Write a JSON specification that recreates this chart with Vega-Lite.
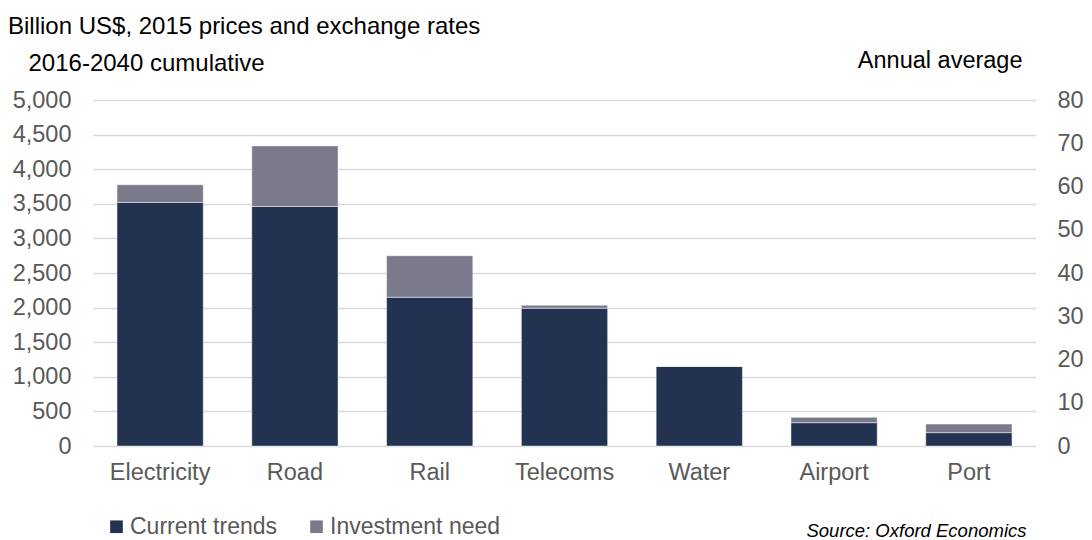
{
  "$schema": "https://vega.github.io/schema/vega-lite/v6.json",
  "width": 943,
  "height": 346,
  "autosize": {"type": "none"},
  "padding": {"left": 93, "top": 100, "right": 56, "bottom": 94},
  "background": "white",
  "config": {
    "font": "Liberation Sans",
    "view": {"stroke": null}
  },
  "title": {
    "text": "Billion US$, 2015 prices and exchange rates",
    "anchor": "start",
    "frame": "group",
    "dx": -85,
    "fontSize": 24,
    "fontWeight": "normal",
    "color": "#000000",
    "font": "Liberation Sans",
    "offset": 9
  },
  "data": {
    "values": [
      {"sector": "Electricity", "series": "Current trends", "value": 3520, "order": 1},
      {"sector": "Electricity", "series": "Investment need", "value": 255, "order": 2},
      {"sector": "Road", "series": "Current trends", "value": 3462, "order": 1},
      {"sector": "Road", "series": "Investment need", "value": 875, "order": 2},
      {"sector": "Rail", "series": "Current trends", "value": 2150, "order": 1},
      {"sector": "Rail", "series": "Investment need", "value": 600, "order": 2},
      {"sector": "Telecoms", "series": "Current trends", "value": 1991, "order": 1},
      {"sector": "Telecoms", "series": "Investment need", "value": 43, "order": 2},
      {"sector": "Water", "series": "Current trends", "value": 1150, "order": 1},
      {"sector": "Water", "series": "Investment need", "value": 0, "order": 2},
      {"sector": "Airport", "series": "Current trends", "value": 337, "order": 1},
      {"sector": "Airport", "series": "Investment need", "value": 77, "order": 2},
      {"sector": "Port", "series": "Current trends", "value": 193, "order": 1},
      {"sector": "Port", "series": "Investment need", "value": 124, "order": 2}
    ]
  },
  "layer": [
    {
      "mark": {"type": "bar", "stroke": "#ffffff", "strokeWidth": 0.8, "strokeOpacity": 0.6},
      "encoding": {
        "x": {
          "field": "sector",
          "type": "nominal",
          "sort": ["Electricity", "Road", "Rail", "Telecoms", "Water", "Airport", "Port"],
          "scale": {"paddingInner": 0.36, "paddingOuter": 0.178},
          "axis": {
            "title": "Source: Oxford Economics",
            "titleX": 933,
            "titleY": 90,
            "titleAlign": "right",
            "titleAnchor": null,
            "titleBaseline": "alphabetic",
            "titleFontStyle": "italic",
            "titleFontWeight": "normal",
            "titleFontSize": 18.5,
            "titleColor": "#000000",
            "labelAngle": 0,
            "labelFontSize": 23.5,
            "labelColor": "#595959",
            "labelPadding": 14,
            "ticks": false,
            "domain": false
          }
        },
        "y": {
          "field": "value",
          "type": "quantitative",
          "stack": "zero",
          "scale": {"domain": [0, 5000], "nice": false},
          "axis": {
            "title": "2016-2040 cumulative",
            "titleAngle": 0,
            "titleX": -65,
            "titleY": -37,
            "titleAlign": "left",
            "titleBaseline": "middle",
            "titleFontSize": 24,
            "titleFontWeight": "normal",
            "titleColor": "#000000",
            "values": [0, 500, 1000, 1500, 2000, 2500, 3000, 3500, 4000, 4500, 5000],
            "format": ",d",
            "labelFontSize": 23.5,
            "labelColor": "#595959",
            "labelPadding": 22,
            "ticks": false,
            "domain": false,
            "grid": true,
            "gridColor": "#d9d9d9",
            "gridWidth": 1.5
          }
        },
        "color": {
          "field": "series",
          "type": "nominal",
          "scale": {"domain": ["Current trends", "Investment need"], "range": ["#223250", "#7a7a8c"]},
          "legend": {
            "title": null,
            "orient": "none",
            "direction": "horizontal",
            "legendX": 12,
            "legendY": 415,
            "symbolType": "square",
            "symbolSize": 160,
            "symbolStrokeWidth": 0,
            "labelFontSize": 23,
            "labelColor": "#595959",
            "labelOffset": 2,
            "labelLimit": 400,
            "columnPadding": 27
          }
        },
        "order": {"field": "order", "type": "quantitative"}
      }
    },
    {
      "mark": {"type": "rule", "opacity": 0},
      "encoding": {
        "y": {
          "datum": 0,
          "type": "quantitative",
          "scale": {"domain": [0, 80], "nice": false},
          "axis": {
            "orient": "right",
            "title": "Annual average",
            "titleAngle": 0,
            "titleX": -14,
            "titleY": -40,
            "titleAlign": "right",
            "titleBaseline": "middle",
            "titleFontSize": 23.5,
            "titleFontWeight": "normal",
            "titleColor": "#000000",
            "values": [0, 10, 20, 30, 40, 50, 60, 70, 80],
            "labelFontSize": 23.5,
            "labelColor": "#595959",
            "labelPadding": 21,
            "ticks": false,
            "domain": false,
            "grid": false
          }
        }
      }
    }
  ],
  "resolve": {"scale": {"y": "independent"}}
}
